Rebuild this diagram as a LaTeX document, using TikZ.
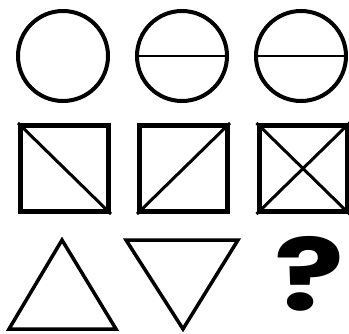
\documentclass[tikz,border=0pt]{standalone}
\usepackage{fontspec}
\newfontfamily\qfont{Poppins}
\begin{document}
\begin{tikzpicture}[x=1pt,y=-1pt,
  ring/.style={draw=black,line width=4pt},
  chord/.style={draw=black,line width=2.5pt},
  frame/.style={draw=black,line width=5pt},
  diag/.style={draw=black,line width=3pt},
  tri/.style={draw=black,line width=3.5pt,line join=miter},
]
\useasboundingbox[fill=white] (0,0) rectangle (349,333);
% circles
\node[ring,circle,minimum size=90pt,inner sep=0pt] (c1) at (63,56) {};
\node[ring,circle,minimum size=90pt,inner sep=0pt] (c2) at (182,56) {};
\node[ring,circle,minimum size=90pt,inner sep=0pt] (c3) at (301,56) {};
\draw[chord] (c2.west) -- (c2.east);
\draw[chord] (c3.west) -- (c3.east);
% squares
\node[frame,rectangle,minimum width=88pt,minimum height=86pt,inner sep=0pt] (s1) at (64.5,168.5) {};
\node[frame,rectangle,minimum width=88pt,minimum height=86pt,inner sep=0pt] (s2) at (183.5,168.5) {};
\node[frame,rectangle,minimum width=88pt,minimum height=86pt,inner sep=0pt] (s3) at (303,168.5) {};
\draw[diag] (s1.north west) -- (s1.south east);
\draw[diag] (s2.south west) -- (s2.north east);
\draw[diag] (s3.north west) -- (s3.south east);
\draw[diag] (s3.south west) -- (s3.north east);
% triangles
\coordinate (t1a) at (62,240);
\coordinate (t1b) at (116,329);
\coordinate (t1c) at (9,329);
\draw[tri] (t1a) -- (t1b) -- (t1c) -- cycle;
\coordinate (t2a) at (126,240);
\coordinate (t2b) at (238,240);
\coordinate (t2c) at (183,329);
\draw[tri] (t2a) -- (t2b) -- (t2c) -- cycle;
% question mark
\node[inner sep=0pt,text depth=0pt,anchor=base,xscale=1.3] (q) at (309,310) {\qfont\bfseries\fontsize{100}{100}\selectfont ?};
\end{tikzpicture}
\end{document}
